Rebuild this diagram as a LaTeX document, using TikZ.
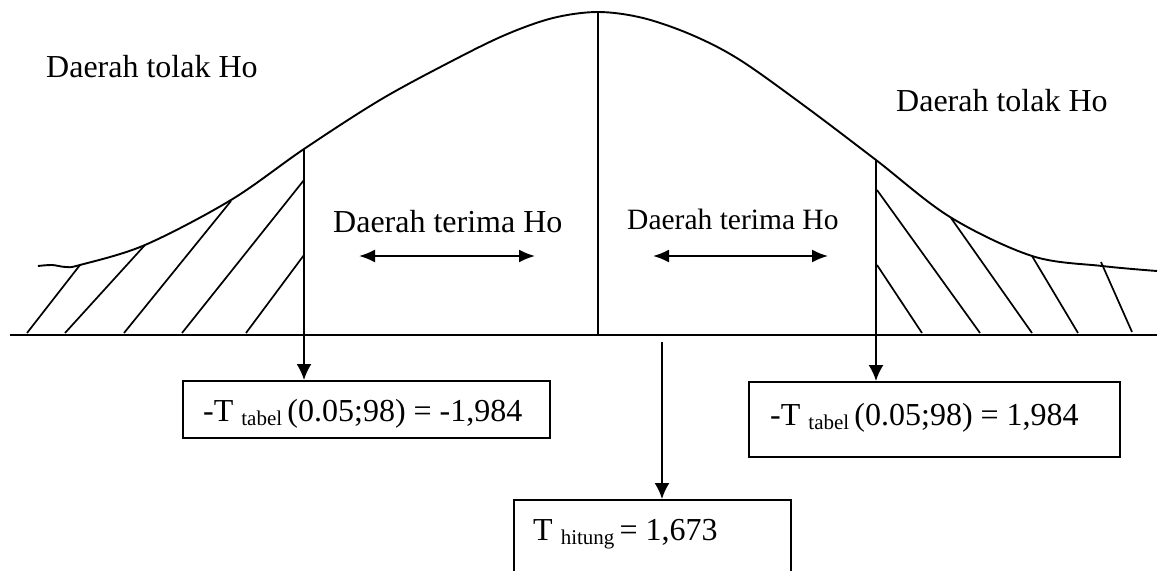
\documentclass[tikz,border=0pt]{standalone}
\usepackage{fontspec}
\setmainfont{Liberation Serif}
\usetikzlibrary{arrows.meta}
\newcommand\txtbig{\fontsize{32}{38}\selectfont}
\newcommand\txtmid{\fontsize{29.5}{35}\selectfont}
\newcommand\txtsub[1]{\raisebox{-4.5pt}{\fontsize{21}{24}\selectfont #1}}
\begin{document}
\begin{tikzpicture}[x=1pt, y=-1pt,
  stroke/.style={line width=1.9pt, line join=round, line cap=butt},
  hatchline/.style={line width=1.7pt},
  label/.style={inner sep=0pt, anchor=base west},
  valuebox/.style={draw, line width=1.9pt, inner sep=0pt, anchor=north west},
  pointer/.style={line width=1.9pt, -{Latex[length=16pt, width=15pt]}},
  span/.style={line width=1.9pt, {Latex[length=16pt, width=13pt]}-{Latex[length=16pt, width=13pt]}}]
\useasboundingbox (0,0) rectangle (1161,570);
\clip (0,0) rectangle (1161,570);

% axis and key points of the curve
\coordinate (bl) at (10,335);
\coordinate (br) at (1157,335);
\coordinate (peak) at (598,12);
\coordinate (lcut) at (304,149);
\coordinate (rcut) at (876,160);

% bell curve
\draw[stroke] plot[smooth, tension=0.55] coordinates {
  (38,266) (52,265) (66,267) (80,265) (145,245) (231,200) (304,149)
  (380,100) (450,62) (505,35) (553,18) (598,12) (643,18) (692,35)
  (740,60) (806,107) (876,160) (950,217) (1032,256) (1102,266) (1157,271)};

% axis and mean line
\draw[stroke] (bl) -- (br);
\draw[stroke] (peak) -- (peak |- bl);

% rejection region hatching, left tail
\draw[hatchline] (27,333) -- (80,265);
\draw[hatchline] (65,333) -- (145,245);
\draw[hatchline] (124,333) -- (231,201);
\draw[hatchline] (182,333) -- (304,180);
\draw[hatchline] (246,333) -- (304,255);

% rejection region hatching, right tail
\draw[hatchline] (877,190) -- (980,333);
\draw[hatchline] (877,265) -- (922,333);
\draw[hatchline] (951,218) -- (1032,333);
\draw[hatchline] (1032,256) -- (1078,333);
\draw[hatchline] (1101,262) -- (1132,332);

% region labels
\node[label] (tolakL) at (46,77) {\txtbig Daerah tolak Ho};
\node[label] (tolakR) at (896,111) {\txtbig Daerah tolak Ho};
\node[label] (terimaL) at (333,232) {\txtbig Daerah terima Ho};
\node[label] (terimaR) at (627,229) {\txtmid Daerah terima Ho};

% acceptance region spans
\coordinate (sL1) at (359,256);
\coordinate (sL2) at (535,256);
\coordinate (sR1) at (653,256);
\coordinate (sR2) at (828,256);
\draw[span] (sL1) -- (sL2);
\draw[span] (sR1) -- (sR2);

% value boxes
\node[valuebox, minimum width=367pt, minimum height=57pt] (lbox) at (182,380) {};
\node[valuebox, minimum width=371pt, minimum height=75pt] (rbox) at (748,381) {};
\node[valuebox, minimum width=277pt, minimum height=90pt] (cbox) at (513,499) {};

\node[label] (ltext) at (203,421) {\txtbig -T \txtsub{tabel }(0.05;98) = -1,984};
\node[label] (rtext) at (770,425) {\txtbig -T \txtsub{tabel }(0.05;98) = 1,984};
\node[label] (ctext) at (533,540) {\txtbig T \txtsub{hitung }= 1,673};

% critical values and computed statistic
\draw[pointer] (lcut) -- (lcut |- lbox.north);
\draw[pointer] (rcut) -- (rcut |- rbox.north);
\coordinate (cstart) at (662,342);
\draw[pointer] (cstart) -- (cstart |- cbox.north);
\end{tikzpicture}
\end{document}
